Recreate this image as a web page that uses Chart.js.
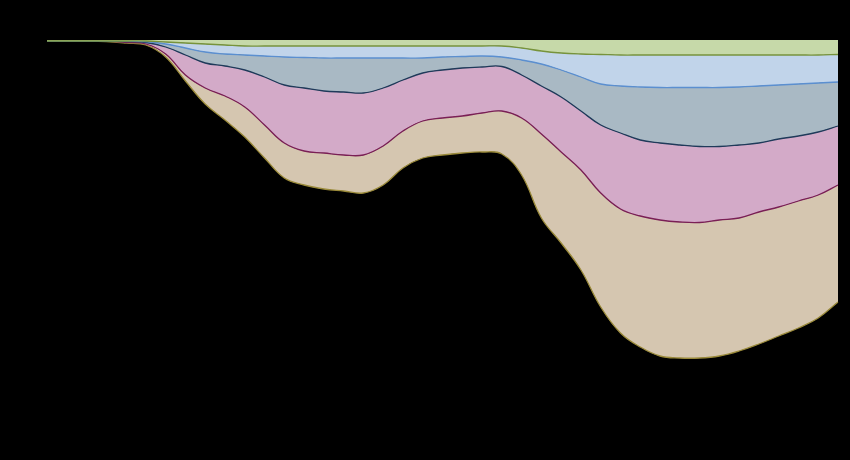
<!DOCTYPE html>
<html lang="en">
<head>
    <meta charset="UTF-8">
    <title>Stacked area</title>
    <script src="https://cdn.jsdelivr.net/npm/chart.js"></script>
    <style>
        html, body { margin: 0; padding: 0; background: #000000; }
        #wrap { width: 850px; height: 460px; }
    </style>
</head>
<body>
    <div id="wrap"><canvas id="areaChart" width="850" height="460"></canvas></div>
    <script>
        // 41 evenly spaced samples along the x axis
        const steps = Array.from({ length: 41 }, (_, i) => i);

        // layer thicknesses (stacked downwards from 0)
        const layerGreen = [1,1,1,1,1,1,2,3,4,5,6,6,6,6,6,6,6,6,6,6,6,6,6,6,8,11,13,14,14.5,15,15,15,15,15,15,15,15,15,15,15,14.5];
        const layerBlue = [0,0,0,0,0,0.5,2,5,8,9,9,10,11,11.5,12,12,12,12,12,12,11,10.5,10,11,12,13,17,23,29.5,31,32,32.5,32.5,32.5,32.5,32,31,30,29,28,27.5];
        const layerSlate = [0,0,0,0,0.5,1,3,7,11,12,15,21,28,30.5,33,34,35,30,22,15,13,11.5,11,9.5,15,22,27,34,41,47,53,55.5,57.5,59,59,58,57,54,52,49,44];
        const layerPink = [0,0,0,0,1,1.5,7,20,25,30,37,48,58,63,62,63,62,58,51,48,48,48,46,44.5,43,48,55,59,68,76,76,77,77,76,73.5,73,69,68,65,63,59];
        const layerTan = [0,0,0,0.5,0.5,1,3,6,16,24,30,33,35,34,36,36,38,39,37,37,37,37,39,43,57,84,91,100,114,124,131,136,136,135.5,136,133,132,129,127,123,117];

        const names = ['Layer 1', 'Layer 2', 'Layer 3', 'Layer 4', 'Layer 5'];
        const fills = ['#c6d9a9', '#c1d4ea', '#a9b9c4', '#d3aac8', '#d5c6b0'];
        const lines = ['#77933c', '#5b8fd0', '#1f3a5a', '#7a1f55', '#9a8a3a'];

        const layers = [layerGreen, layerBlue, layerSlate, layerPink, layerTan];

        const datasets = layers.map((vals, k) => ({
            label: names[k],
            data: vals.map(v => -v),
            backgroundColor: fills[k],
            borderColor: lines[k],
            borderWidth: 1.3,
            pointRadius: 0,
            fill: k === 0 ? 'origin' : '-1',
            tension: 0.4
        }));

        new Chart(document.getElementById('areaChart'), {
            type: 'line',
            data: { labels: steps, datasets: datasets },
            options: {
                responsive: false,
                animation: false,
                layout: { padding: { left: 47, right: 12, top: 40, bottom: 0 } },
                plugins: { legend: { display: false }, tooltip: { enabled: false } },
                scales: {
                    x: { display: false, offset: false },
                    y: { display: false, stacked: true, min: -420, max: 0 }
                }
            }
        });
    </script>
</body>
</html>
